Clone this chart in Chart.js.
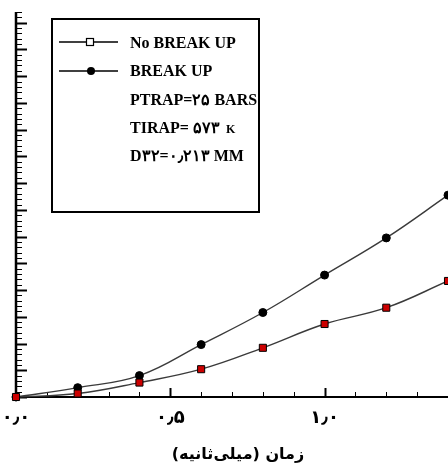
<!DOCTYPE html>
<html>
<head>
<meta charset="utf-8">
<script src="https://cdn.jsdelivr.net/npm/chart.js@4/dist/chart.umd.min.js"></script>
<style>
  html, body { margin: 0; padding: 0; background: #fff; }
  canvas { display: block; }
</style>
</head>
<body>
<canvas id="c" width="448" height="470"></canvas>
<script>
// time (ms)
const timeMs = [0, 0.2, 0.4, 0.6, 0.8, 1.0, 1.2, 1.4];
// series values
const noBreakUp = [0, 0.13, 0.54, 1.04, 1.84, 2.73, 3.34, 4.34];
const breakUp   = [0, 0.35, 0.80, 1.96, 3.16, 4.56, 5.95, 7.55];
// x tick labels
const xTickValues = [0, 0.5, 1.0];
const xTickLabels = ['۰٫۰', '۰٫۵', '۱٫۰'];
const xTitle = 'زمان (میلی‌ثانیه)';
// legend / annotation lines
const seriesNames = ['No BREAK UP', 'BREAK UP'];
const notes = [
  ['PTRAP=۲۵ BARS', ''],
  ['TIRAP= ۵۷۳ ', 'K'],
  ['D۳۲=۰٫۲۱۳ MM', '']
];

const toPts = ys => timeMs.map((t, i) => ({ x: t, y: ys[i] }));

const axesPlugin = {
  id: 'axesPlugin',
  beforeDatasetsDraw(chart) {
    const { ctx, chartArea: a, scales: { x, y } } = chart;
    ctx.save();
    ctx.strokeStyle = '#000';
    // y axis line
    ctx.lineWidth = 2.5;
    ctx.beginPath();
    ctx.moveTo(16, y.getPixelForValue(y.max));
    ctx.lineTo(16, y.getPixelForValue(0) + 1);
    ctx.stroke();
    // x axis line
    ctx.lineWidth = 2;
    ctx.beginPath();
    ctx.moveTo(14.5, y.getPixelForValue(0));
    ctx.lineTo(a.right, y.getPixelForValue(0));
    ctx.stroke();
    // y ticks (inward): major every 1, minor every 0.2
    for (let k = 0; k <= 72; k++) {
      const v = k * 0.2;
      const py = Math.round(y.getPixelForValue(v)) + 0.5;
      const major = k % 5 === 0;
      ctx.lineWidth = major ? 2 : 1;
      ctx.beginPath();
      ctx.moveTo(16, py);
      ctx.lineTo(major ? 27 : 22, py);
      ctx.stroke();
    }
    // x ticks (inward): major every 0.5, minor every 0.1
    const y0 = y.getPixelForValue(0);
    for (let k = 1; k <= 14; k++) {
      const v = k * 0.1;
      const px = Math.round(x.getPixelForValue(v)) + 0.5;
      const major = k % 5 === 0;
      ctx.lineWidth = major ? 2 : 1;
      ctx.beginPath();
      ctx.moveTo(px, y0);
      ctx.lineTo(px, y0 - (major ? 9 : 5));
      ctx.stroke();
    }
    // x tick labels
    ctx.fillStyle = '#000';
    ctx.font = 'bold 18px "DejaVu Sans"';
    ctx.textAlign = 'center';
    ctx.textBaseline = 'middle';
    xTickValues.forEach((v, i) => {
      ctx.fillText(xTickLabels[i], x.getPixelForValue(v), 418);
    });
    // x title
    ctx.font = 'bold 16px "DejaVu Sans"';
    ctx.direction = 'rtl';
    ctx.fillText(xTitle, 238, 455);
    ctx.restore();
  },
  afterDraw(chart) {
    const { ctx } = chart;
    ctx.save();
    // legend box
    ctx.fillStyle = '#fff';
    ctx.fillRect(52, 19, 207, 193);
    ctx.strokeStyle = '#000';
    ctx.lineWidth = 2;
    ctx.strokeRect(52, 19, 207, 193);
    // series samples
    const rows = [42, 71];
    ctx.lineWidth = 1.5;
    rows.forEach(ry => {
      ctx.beginPath();
      ctx.moveTo(59, ry);
      ctx.lineTo(118, ry);
      ctx.stroke();
    });
    ctx.fillStyle = '#fff';
    ctx.lineWidth = 1.2;
    ctx.fillRect(86.5, 38.5, 7, 7);
    ctx.strokeRect(86.5, 38.5, 7, 7);
    ctx.fillStyle = '#000';
    ctx.beginPath();
    ctx.arc(91, 71, 4, 0, Math.PI * 2);
    ctx.fill();
    // texts
    ctx.textAlign = 'left';
    ctx.textBaseline = 'middle';
    ctx.font = 'bold 16px "Liberation Serif"';
    ctx.fillText(seriesNames[0], 130, 44);
    ctx.fillText(seriesNames[1], 130, 72);
    const ny = [101, 129, 157];
    notes.forEach((n, i) => {
      ctx.font = 'bold 16px "Liberation Serif"';
      ctx.fillText(n[0], 130, ny[i]);
      if (n[1]) {
        const w = ctx.measureText(n[0]).width;
        ctx.font = 'bold 12px "Liberation Serif"';
        ctx.fillText(n[1], 130 + w + 2, ny[i] + 1);
      }
    });
    ctx.restore();
  }
};

new Chart(document.getElementById('c'), {
  type: 'line',
  data: {
    datasets: [
      {
        label: seriesNames[0],
        data: toPts(noBreakUp),
        borderColor: '#3a3a3a',
        borderWidth: 1.4,
        tension: 0.4,
        pointStyle: 'rect',
        pointRadius: 5,
        pointBackgroundColor: '#cc0000',
        pointBorderColor: '#000',
        pointBorderWidth: 1,
        clip: false
      },
      {
        label: seriesNames[1],
        data: toPts(breakUp),
        borderColor: '#3a3a3a',
        borderWidth: 1.4,
        tension: 0.4,
        pointStyle: 'circle',
        pointRadius: 4,
        pointBackgroundColor: '#000',
        pointBorderColor: '#000',
        pointBorderWidth: 1,
        clip: false
      }
    ]
  },
  options: {
    responsive: false,
    devicePixelRatio: 1,
    animation: false,
    layout: { autoPadding: false, padding: { left: 16, right: 0, top: 12, bottom: 73 } },
    plugins: { legend: { display: false }, tooltip: { enabled: false } },
    scales: {
      x: { type: 'linear', min: 0, max: 1.4, display: false },
      y: { type: 'linear', min: 0, max: 14.4, display: false }
    }
  },
  plugins: [axesPlugin]
});
</script>
</body>
</html>
